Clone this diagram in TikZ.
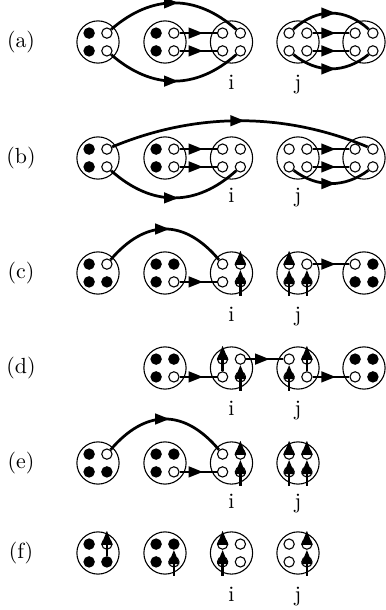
\documentclass[tikz,border=0pt]{standalone}
\usetikzlibrary{arrows.meta,decorations.markings}
\tikzset{
 bigc/.style={circle, draw, line width=0.5pt, minimum size=19.3pt, inner sep=0pt},
 dotb/.style={circle, draw, line width=0.5pt, minimum size=4.7pt, inner sep=0pt},
 fd/.style={dotb, fill=black},
 od/.style={dotb, fill=white},
 conn/.style={line width=1.25pt, postaction={decorate}, decoration={markings, mark=at position 0.5 with {\arrow[xshift=2.2pt]{Triangle[length=6.6pt,width=4.8pt]}}}},
 varr/.style={line width=1.25pt, -{Triangle[length=6.6pt,width=4.8pt]}},
 idx/.style={anchor=base, inner sep=0pt},
}
\newcommand\dotgroup[7]{%
 \begin{scope}[shift={(#2,#3)}]
 \node[bigc] (#1) at (0,0) {};
 \node[#4] (#1tl) at (-8.9,-8.9) {};
 \node[#5] (#1tr) at (8.9,-8.9) {};
 \node[#6] (#1bl) at (-8.9,8.9) {};
 \node[#7] (#1br) at (8.9,8.9) {};
 \coordinate (#1lt) at (-8.9,-22.5);
 \coordinate (#1lb) at (-8.9,22.5);
 \coordinate (#1rt) at (8.9,-22.5);
 \coordinate (#1rb) at (8.9,22.5);
 \end{scope}}
\begin{document}
\begin{tikzpicture}[x=0.457pt, y=-0.457pt]
\useasboundingbox (0,0) rectangle (385,610);
% row labels
\node (la) at (21,42) {(a)};
\node (lb) at (21,158) {(b)};
\node (lc) at (21,273) {(c)};
\node (ld) at (21,368) {(d)};
\node (le) at (21,463) {(e)};
\node (lf) at (21,553) {(f)};
% ---------- row a
\dotgroup{a1}{98}{42}{fd}{od}{fd}{od}
\dotgroup{a2}{165}{42}{fd}{od}{fd}{od}
\dotgroup{a3}{231.5}{42}{od}{od}{od}{od}
\dotgroup{a4}{298}{42}{od}{od}{od}{od}
\dotgroup{a5}{364}{42}{od}{od}{od}{od}
\draw[conn] (a1tr) .. controls (152,-6) and (196,-6) .. (a3tr);
\draw[conn] (a1br) .. controls (152,90) and (196,90) .. (a3br);
\draw[conn] (a2tr) -- (a3tl);
\draw[conn] (a2br) -- (a3bl);
\draw[conn] (a4tr) -- (a5tl);
\draw[conn] (a4br) -- (a5bl);
\draw[conn] (a4tl) .. controls (317,7.7) and (345,7.7) .. (a5tr);
\draw[conn] (a4bl) .. controls (317,73.7) and (345,73.7) .. (a5br);
\node[idx] (ia) at (231.5,89) {i};
\node[idx] (ja) at (298,89) {j};
% ---------- row b
\dotgroup{b1}{98}{158}{fd}{od}{fd}{od}
\dotgroup{b2}{165}{158}{fd}{od}{fd}{od}
\dotgroup{b3}{231.5}{158}{od}{od}{od}{od}
\dotgroup{b4}{298}{158}{od}{od}{od}{od}
\dotgroup{b5}{364}{158}{od}{od}{od}{od}
\draw[conn] (b1tr) .. controls (196,112) and (284,112) .. (b5tr);
\draw[conn] (b1br) .. controls (152,207) and (196,207) .. (b3br);
\draw[conn] (b2tr) -- (b3tl);
\draw[conn] (b2br) -- (b3bl);
\draw[conn] (b4tr) -- (b5tl);
\draw[conn] (b4br) -- (b5bl);
\draw[conn] (b4bl) .. controls (317,188) and (345,188) .. (b5br);
\node[idx] (ib) at (231.5,202) {i};
\node[idx] (jb) at (298,202) {j};
% ---------- row c
\dotgroup{c1}{98}{273}{fd}{od}{fd}{fd}
\dotgroup{c2}{165}{273}{fd}{fd}{fd}{od}
\dotgroup{c3}{231.5}{273}{od}{od}{od}{od}
\dotgroup{c4}{298}{273}{od}{od}{od}{od}
\dotgroup{c5}{364}{273}{od}{fd}{fd}{fd}
\draw[conn] (c1tr) .. controls (145.7,218.7) and (184.3,218.7) .. (c3tl);
\draw[conn] (c2br) -- (c3bl);
\draw[conn] (c4tr) -- (c5tl);
\draw[varr] (c3rb) -- (c3tr);
\draw[varr] (c3tr.center) -- (c3rt);
\draw[varr] (c4lb) -- (c4tl);
\draw[varr] (c4tl.center) -- (c4lt);
\draw[varr] (c4rb) -- (c4tr);
\node[idx] (ic) at (231.5,321) {i};
\node[idx] (jc) at (298,321) {j};
% ---------- row d
\dotgroup{d1}{165}{368}{fd}{fd}{fd}{od}
\dotgroup{d2}{231.5}{368}{od}{od}{od}{od}
\dotgroup{d3}{298}{368}{od}{od}{od}{od}
\dotgroup{d4}{364}{368}{fd}{fd}{od}{fd}
\draw[conn] (d1br) -- (d2bl);
\draw[conn] (d2tr) -- (d3tl);
\draw[conn] (d3br) -- (d4bl);
\draw[varr] (d2bl) -- (d2lt);
\draw[varr] (d2rb) -- (d2tr);
\draw[varr] (d3lb) -- (d3tl);
\draw[varr] (d3br) -- (d3rt);
\node[idx] (id) at (231.5,415) {i};
\node[idx] (jd) at (298,415) {j};
% ---------- row e
\dotgroup{e1}{98}{463}{fd}{od}{fd}{fd}
\dotgroup{e2}{165}{463}{fd}{fd}{fd}{od}
\dotgroup{e3}{231.5}{463}{od}{od}{od}{od}
\dotgroup{e4}{298}{463}{od}{od}{od}{od}
\draw[conn] (e1tr) .. controls (145.7,408.7) and (184.3,408.7) .. (e3tl);
\draw[conn] (e2br) -- (e3bl);
\draw[varr] (e3rb) -- (e3tr);
\draw[varr] (e3tr.center) -- (e3rt);
\draw[varr] (e4lb) -- (e4tl);
\draw[varr] (e4tl.center) -- (e4lt);
\draw[varr] (e4rb) -- (e4tr);
\draw[varr] (e4tr.center) -- (e4rt);
\node[idx] (ie) at (231.5,508) {i};
\node[idx] (je) at (298,508) {j};
% ---------- row f
\dotgroup{f1}{98}{553}{fd}{od}{fd}{fd}
\dotgroup{f2}{165}{553}{fd}{fd}{fd}{od}
\dotgroup{f3}{231.5}{553}{od}{od}{od}{od}
\dotgroup{f4}{298}{553}{od}{od}{od}{od}
\draw[varr] (f1br) -- (f1rt);
\draw[varr] (f2rb) -- (f2tr);
\draw[varr] (f3lb) -- (f3tl);
\draw[varr] (f3tl.center) -- (f3lt);
\draw[varr] (f4rb) -- (f4tr);
\draw[varr] (f4tr.center) -- (f4rt);
\node[idx] (if) at (231.5,601) {i};
\node[idx] (jf) at (298,601) {j};
\end{tikzpicture}
\end{document}
